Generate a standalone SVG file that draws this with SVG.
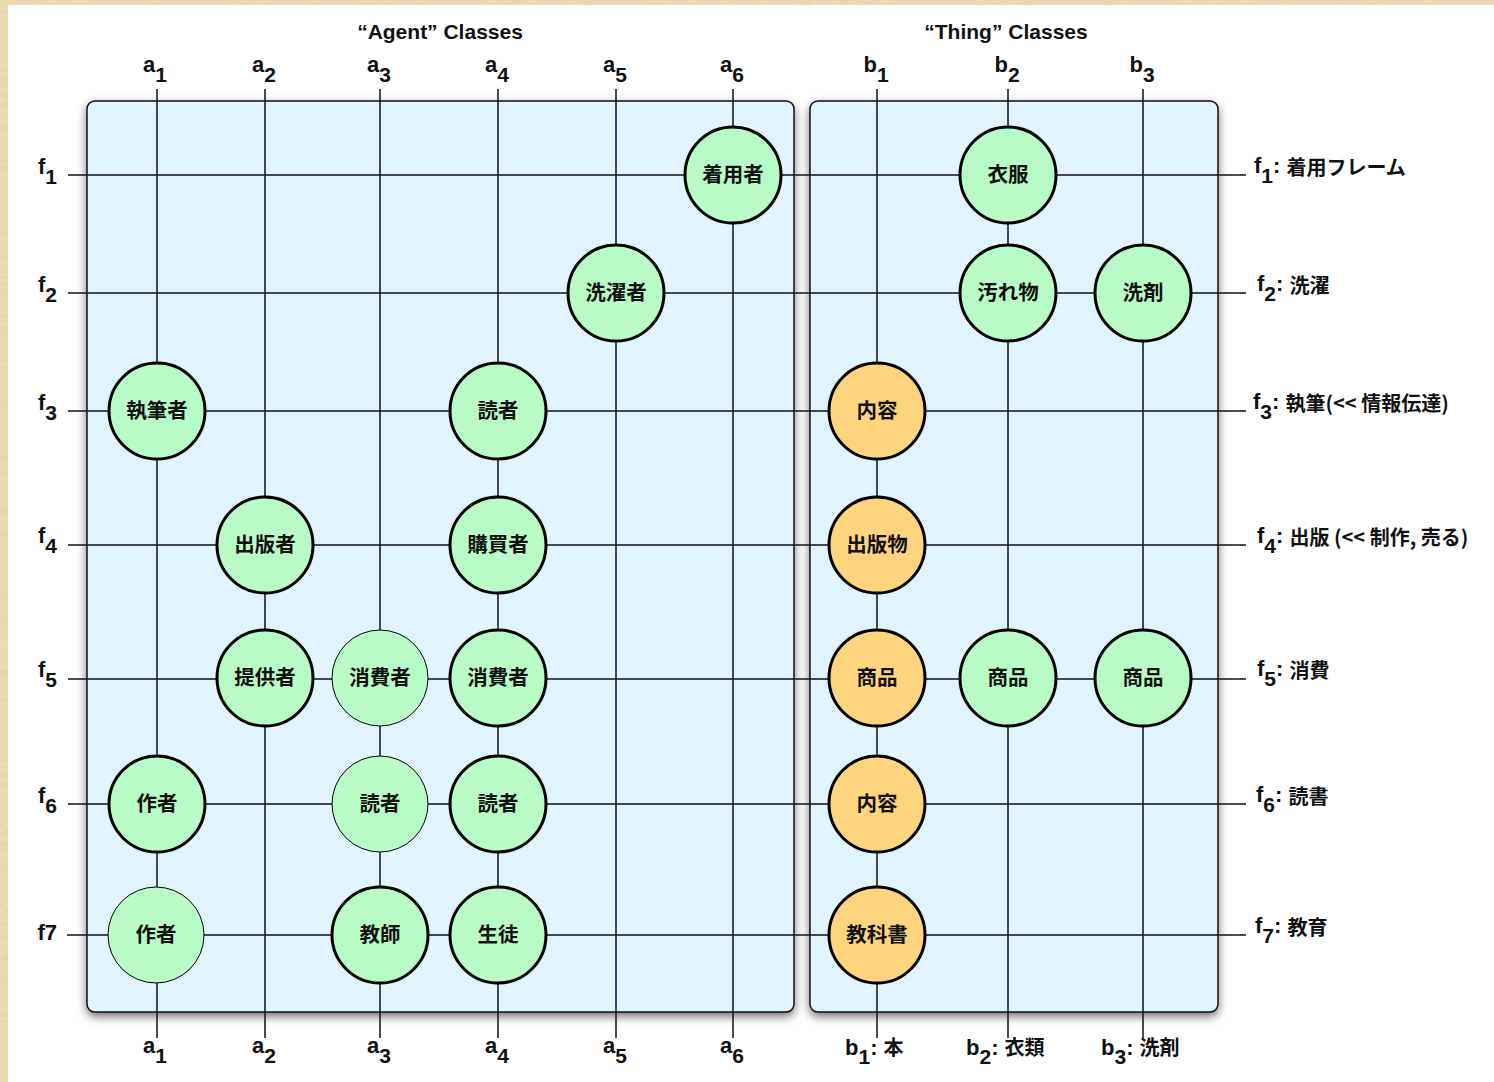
<svg xmlns="http://www.w3.org/2000/svg" width="1494" height="1082" viewBox="0 0 1494 1082">
<style>
.lbl{font-family:"Liberation Sans","Noto Sans CJK JP",sans-serif;font-weight:700;fill:#111}
.ax{font-size:22px}
.sub{font-size:21px}
.ttl{font-size:21px;text-anchor:middle}
.jp{font-family:"Noto Sans CJK JP","Liberation Sans",sans-serif;font-weight:700;font-size:20px}
.panel{fill:#e1f3fd;stroke:#111;stroke-width:1.5}
.grid line{stroke:#111;stroke-width:1.5}
.nd circle{fill:#b9fbc6;stroke:#000;stroke-width:3}
.nd.o circle{fill:#ffd47f}
.nd.thin circle{stroke-width:1}
.nd text{font-family:"Noto Sans CJK JP",sans-serif;font-weight:700;font-size:20.5px;text-anchor:middle;fill:#111}
</style>
<defs>
<filter id="shadow" x="-5%" y="-5%" width="110%" height="110%">
<feDropShadow dx="0" dy="4" stdDeviation="5" flood-color="#000" flood-opacity="0.55"/>
</filter>
<filter id="paper" x="0" y="0" width="100%" height="100%">
<feTurbulence type="fractalNoise" baseFrequency="0.08 0.3" numOctaves="3" seed="4" result="n"/>
<feColorMatrix in="n" type="matrix" values="0 0 0 0 0.78  0 0 0 0 0.66  0 0 0 0 0.40  0 0 0 1.6 -0.5" result="c"/>
<feComposite in="c" in2="SourceGraphic" operator="atop"/>
</filter>
</defs>
<rect x="0" y="0" width="1494" height="1082" fill="#ecdcb4" filter="url(#paper)"/>
<rect x="8" y="5" width="1486" height="1077" fill="#fff"/>

<g id="panels">
<rect id="agent-panel" class="panel" x="87" y="101" width="707" height="911" rx="8" filter="url(#shadow)"/>
<rect id="thing-panel" class="panel" x="810" y="101" width="408" height="911" rx="8" filter="url(#shadow)"/>
</g>

<g id="titles" class="lbl">
<text class="ttl" x="440" y="39">“Agent” Classes</text>
<text class="ttl" x="1006" y="39">“Thing” Classes</text>
</g>

<g id="connectors" class="grid">
<line x1="157" y1="89" x2="157" y2="1038"/>
<line x1="265" y1="89" x2="265" y2="1038"/>
<line x1="380" y1="89" x2="380" y2="1038"/>
<line x1="498" y1="89" x2="498" y2="1038"/>
<line x1="616" y1="89" x2="616" y2="1038"/>
<line x1="733" y1="89" x2="733" y2="1038"/>
<line x1="877" y1="89" x2="877" y2="1038"/>
<line x1="1008" y1="89" x2="1008" y2="1038"/>
<line x1="1143" y1="89" x2="1143" y2="1038"/>
<line x1="68" y1="175" x2="1246" y2="175"/>
<line x1="68" y1="293" x2="1246" y2="293"/>
<line x1="68" y1="411" x2="1246" y2="411"/>
<line x1="68" y1="545" x2="1246" y2="545"/>
<line x1="68" y1="679" x2="1246" y2="679"/>
<line x1="68" y1="804" x2="1246" y2="804"/>
<line x1="67" y1="935" x2="1246" y2="935"/>
</g>

<g id="col-labels-top" class="lbl ax" text-anchor="middle">
<text x="155" y="72">a<tspan class="sub" dy="10">1</tspan></text>
<text x="264" y="72">a<tspan class="sub" dy="10">2</tspan></text>
<text x="379" y="72">a<tspan class="sub" dy="10">3</tspan></text>
<text x="497" y="72">a<tspan class="sub" dy="10">4</tspan></text>
<text x="615" y="72">a<tspan class="sub" dy="10">5</tspan></text>
<text x="732" y="72">a<tspan class="sub" dy="10">6</tspan></text>
<text x="876" y="72">b<tspan class="sub" dy="10">1</tspan></text>
<text x="1007" y="72">b<tspan class="sub" dy="10">2</tspan></text>
<text x="1142" y="72">b<tspan class="sub" dy="10">3</tspan></text>
</g>

<g id="col-labels-bottom" class="lbl ax">
<text x="155" y="1053" text-anchor="middle">a<tspan class="sub" dy="10">1</tspan></text>
<text x="264" y="1053" text-anchor="middle">a<tspan class="sub" dy="10">2</tspan></text>
<text x="379" y="1053" text-anchor="middle">a<tspan class="sub" dy="10">3</tspan></text>
<text x="497" y="1053" text-anchor="middle">a<tspan class="sub" dy="10">4</tspan></text>
<text x="615" y="1053" text-anchor="middle">a<tspan class="sub" dy="10">5</tspan></text>
<text x="732" y="1053" text-anchor="middle">a<tspan class="sub" dy="10">6</tspan></text>
<text x="845" y="1055">b<tspan class="sub" dy="9">1</tspan><tspan dy="-9">: </tspan><tspan class="jp">本</tspan></text>
<text x="966" y="1055">b<tspan class="sub" dy="9">2</tspan><tspan dy="-9">: </tspan><tspan class="jp">衣類</tspan></text>
<text x="1101" y="1055">b<tspan class="sub" dy="9">3</tspan><tspan dy="-9">: </tspan><tspan class="jp">洗剤</tspan></text>
</g>

<g id="row-labels-left" class="lbl ax" text-anchor="end">
<text x="57" y="174">f<tspan class="sub" dy="10">1</tspan></text>
<text x="57" y="292">f<tspan class="sub" dy="10">2</tspan></text>
<text x="57" y="410">f<tspan class="sub" dy="10">3</tspan></text>
<text x="57" y="543">f<tspan class="sub" dy="10">4</tspan></text>
<text x="57" y="677">f<tspan class="sub" dy="10">5</tspan></text>
<text x="57" y="803">f<tspan class="sub" dy="10">6</tspan></text>
<text x="57" y="940">f7</text>
</g>

<g id="row-labels-right" class="lbl ax">
<text x="1254" y="173">f<tspan class="sub" dy="10">1</tspan><tspan dy="-10">: </tspan><tspan class="jp" dy="2">着用フレーム</tspan></text>
<text x="1257" y="291">f<tspan class="sub" dy="10">2</tspan><tspan dy="-10">: </tspan><tspan class="jp" dy="2">洗濯</tspan></text>
<text x="1253" y="409">f<tspan class="sub" dy="10">3</tspan><tspan dy="-10">: </tspan><tspan class="jp" dy="2">執筆(&lt;&lt; 情報伝達)</tspan></text>
<text x="1257" y="543">f<tspan class="sub" dy="10">4</tspan><tspan dy="-10">: </tspan><tspan class="jp" dy="2">出版 (&lt;&lt; 制作, 売る)</tspan></text>
<text x="1257" y="676">f<tspan class="sub" dy="10">5</tspan><tspan dy="-10">: </tspan><tspan class="jp" dy="2">消費</tspan></text>
<text x="1256" y="802">f<tspan class="sub" dy="10">6</tspan><tspan dy="-10">: </tspan><tspan class="jp" dy="2">読書</tspan></text>
<text x="1255" y="933">f<tspan class="sub" dy="10">7</tspan><tspan dy="-10">: </tspan><tspan class="jp" dy="2">教育</tspan></text>
</g>

<g id="nodes">
<g id="n-f1-a6" class="nd"><circle cx="733" cy="175" r="48"/><text x="733" y="182">着用者</text></g>
<g id="n-f1-b2" class="nd"><circle cx="1008" cy="175" r="48"/><text x="1008" y="182">衣服</text></g>
<g id="n-f2-a5" class="nd"><circle cx="616" cy="293" r="48"/><text x="616" y="300">洗濯者</text></g>
<g id="n-f2-b2" class="nd"><circle cx="1008" cy="293" r="48"/><text x="1008" y="300">汚れ物</text></g>
<g id="n-f2-b3" class="nd"><circle cx="1143" cy="293" r="48"/><text x="1143" y="300">洗剤</text></g>
<g id="n-f3-a1" class="nd"><circle cx="157" cy="411" r="48"/><text x="157" y="418">執筆者</text></g>
<g id="n-f3-a4" class="nd"><circle cx="498" cy="411" r="48"/><text x="498" y="418">読者</text></g>
<g id="n-f3-b1" class="nd o"><circle cx="877" cy="411" r="48"/><text x="877" y="418">内容</text></g>
<g id="n-f4-a2" class="nd"><circle cx="265" cy="545" r="48"/><text x="265" y="552">出版者</text></g>
<g id="n-f4-a4" class="nd"><circle cx="498" cy="545" r="48"/><text x="498" y="552">購買者</text></g>
<g id="n-f4-b1" class="nd o"><circle cx="877" cy="545" r="48"/><text x="877" y="552">出版物</text></g>
<g id="n-f5-a2" class="nd"><circle cx="265" cy="678" r="48"/><text x="265" y="685">提供者</text></g>
<g id="n-f5-a3" class="nd thin"><circle cx="380" cy="678" r="48"/><text x="380" y="685">消費者</text></g>
<g id="n-f5-a4" class="nd"><circle cx="498" cy="678" r="48"/><text x="498" y="685">消費者</text></g>
<g id="n-f5-b1" class="nd o"><circle cx="877" cy="678" r="48"/><text x="877" y="685">商品</text></g>
<g id="n-f5-b2" class="nd"><circle cx="1008" cy="678" r="48"/><text x="1008" y="685">商品</text></g>
<g id="n-f5-b3" class="nd"><circle cx="1143" cy="678" r="48"/><text x="1143" y="685">商品</text></g>
<g id="n-f6-a1" class="nd"><circle cx="157" cy="804" r="48"/><text x="157" y="811">作者</text></g>
<g id="n-f6-a3" class="nd thin"><circle cx="380" cy="804" r="48"/><text x="380" y="811">読者</text></g>
<g id="n-f6-a4" class="nd"><circle cx="498" cy="804" r="48"/><text x="498" y="811">読者</text></g>
<g id="n-f6-b1" class="nd o"><circle cx="877" cy="804" r="48"/><text x="877" y="811">内容</text></g>
<g id="n-f7-a1" class="nd thin"><circle cx="156" cy="935" r="48"/><text x="156" y="942">作者</text></g>
<g id="n-f7-a3" class="nd"><circle cx="380" cy="935" r="48"/><text x="380" y="942">教師</text></g>
<g id="n-f7-a4" class="nd"><circle cx="498" cy="935" r="48"/><text x="498" y="942">生徒</text></g>
<g id="n-f7-b1" class="nd o"><circle cx="877" cy="935" r="48"/><text x="877" y="942">教科書</text></g>
</g>
</svg>
